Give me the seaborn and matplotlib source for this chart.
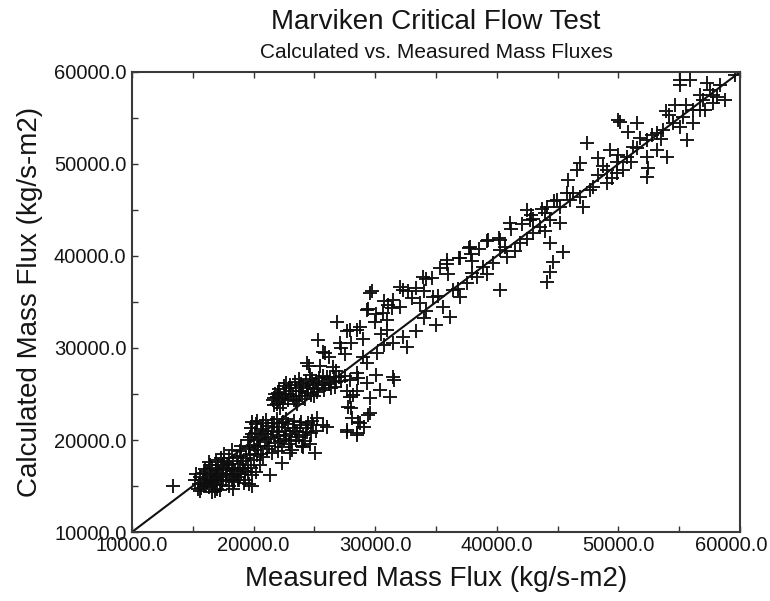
import numpy as np
import pandas as pd
import matplotlib
matplotlib.use("Agg")
import matplotlib.pyplot as plt
import matplotlib.transforms as mtransforms
import seaborn as sns
from matplotlib.ticker import MultipleLocator, FormatStrFormatter

# ---- data: (measured, calculated) mass flux pairs, kg/s-m2 ----
low_cluster = [
    (15500, 15200), (15600, 16000), (15700, 14800), (15800, 15600), (15900, 16400),
    (16000, 15100), (16100, 15800), (16200, 16600), (16300, 14900), (16400, 15500),
    (16500, 16200), (16600, 17000), (16700, 15300), (16800, 16000), (16900, 16700),
    (17000, 14700), (17000, 15800), (17100, 17300), (17200, 16400), (17300, 15100),
    (17400, 17000), (17500, 16000), (17600, 17600), (17700, 15600), (17800, 16700),
    (17900, 17300), (18000, 15000), (18000, 18000), (18100, 16300), (18200, 17000),
    (18300, 17700), (18400, 15400), (18500, 16600), (18600, 18100), (18700, 17400),
    (18800, 15700), (18900, 16900), (19000, 18300), (19100, 17700), (19200, 15300),
    (19300, 16600), (19400, 18000), (19500, 17300), (19600, 15200), (19700, 18500),
    (19800, 17000), (20000, 17800), (20200, 16500), (20300, 18400), (15200, 15700),
    (16400, 17300), (17200, 14600), (18000, 17400), (18600, 16300), (19300, 15600),
    (20500, 17300), (15400, 14700), (16800, 14500), (16900, 17800), (17600, 18500),
    (18200, 18900), (19000, 19300), (13400, 15000),
    (15300, 16300), (15900, 15000), (16200, 15300), (16600, 15700), (16900, 15100),
    (17100, 16100), (17400, 15500), (17700, 16300), (17700, 17000), (18200, 15800),
    (18400, 16200), (18700, 16000), (19000, 16300), (19100, 17000), (19500, 16500),
    (19900, 16200), (20100, 18900), (20400, 19400), (16000, 16900), (16300, 17600),
    (17300, 18000), (18900, 18800), (19600, 19200), (20800, 18200), (15600, 14500),
    (16600, 14300), (18300, 14700), (19900, 15000), (16900, 16300), (17500, 17300),
]
mid_cluster = [
    (19600, 19000), (19700, 20300), (19800, 21300), (20000, 19500), (20100, 20800),
    (20200, 21700), (20400, 19200), (20500, 20200), (20600, 21200), (20800, 21900),
    (20900, 19800), (21000, 20700), (21200, 21500), (21300, 19300), (21400, 20300),
    (21600, 21000), (21700, 21900), (21800, 19700), (22000, 20500), (22100, 21400),
    (22300, 19200), (22400, 22000), (22500, 20100), (22600, 21000), (22800, 21700),
    (22900, 19600), (23000, 20600), (23200, 21300), (23300, 22100), (23500, 20000),
    (23600, 20900), (23800, 21600), (24000, 19400), (24100, 20500), (24300, 21300),
    (24500, 21900), (24700, 20800), (24900, 21600), (19900, 22000), (21000, 22200),
    (22000, 18800), (23000, 18600), (21500, 18600), (21350, 16200), (22300, 17500),
    (23150, 18900), (24060, 19250), (25050, 18600), (18700, 15650),
    (19900, 20700), (20300, 20000), (20700, 20600), (20300, 22100), (21100, 19000),
    (21500, 21800), (21900, 20900), (22200, 19900), (22700, 20400), (22300, 21800),
    (23100, 19900), (23400, 21000), (23700, 20300), (23900, 22000), (24200, 19900),
    (24400, 20900), (24800, 22100), (25100, 21000), (20600, 18500), (21900, 22300),
    (22700, 22300), (19500, 20000), (20800, 21000), (21200, 20100), (24600, 19600),
]
upper_cluster = [
    (21600, 24300), (21700, 23800), (21800, 25000), (22000, 24100), (22100, 25500),
    (22300, 24600), (22400, 23900), (22500, 25900), (22700, 25000), (22800, 24300),
    (23000, 26000), (23100, 25300), (23300, 24400), (23400, 26300), (23500, 25600),
    (23700, 24800), (23900, 26100), (24000, 25300), (24200, 24500), (24300, 26400),
    (24500, 25700), (24700, 24900), (24800, 26600), (25000, 26000), (25200, 25200),
    (25400, 26700), (25600, 26200), (25800, 25400), (26000, 26800), (26200, 26100),
    (26400, 25600), (26600, 26900), (26800, 26300), (27000, 26900), (22200, 23500),
    (23600, 23900), (25000, 24800), (21900, 24700), (24600, 27100), (25700, 27000),
    (21700, 24600), (22000, 25100), (22200, 24900), (22600, 24600), (22900, 25600),
    (23200, 24800), (23500, 24200), (23800, 25300), (24100, 25900), (24400, 25100),
    (24600, 26200), (25100, 26400), (25300, 25700), (25900, 26000), (26300, 26600),
    (26700, 25800), (23700, 26600), (22700, 26200), (21900, 23900), (24900, 25500),
]
low_scatter = [
    (25200, 22400), (25700, 21650), (26000, 21400), (27650, 20900), (28470, 20550),
    (28100, 22400), (28600, 22000), (29400, 22700), (27980, 23450), (27760, 23600),
    (27900, 24650), (28500, 20750), (28750, 21850), (27700, 21100), (29100, 21450),
    (29300, 26200), (30400, 25450), (31200, 24650), (31460, 26850), (31550, 26550),
    (30100, 27100), (28470, 25300), (28140, 24900), (27650, 25300), (27170, 26400),
    (28600, 26700), (29600, 24550), (29570, 22950),
]
upper_band = [
    (24400, 28350), (24560, 28000), (25300, 30900), (25500, 28000), (25700, 29550),
    (25900, 29450), (26500, 27900), (26860, 32800), (27100, 30550), (27170, 30000),
    (27650, 31800), (27900, 31950), (28470, 32000), (28750, 32300), (29300, 34150),
    (29440, 34200), (29570, 35950), (29770, 36200), (30100, 33650), (30640, 33800),
    (30740, 35090), (31070, 34700), (31390, 34370), (31460, 35200), (32000, 36600),
    (32300, 36300), (32690, 36180), (33340, 36550), (33900, 37700), (34150, 37460),
    (34640, 37640), (35300, 38700), (35900, 39550), (35940, 39090), (36920, 39820),
    (37000, 39800), (37730, 40910), (37800, 41000), (37890, 40180), (38500, 40800),
    (39200, 41600), (39300, 41750), (40200, 42000), (40260, 41750), (41100, 43600),
    (41150, 42900), (42100, 43450), (42480, 45000), (42700, 43900), (42800, 44500),
    (43750, 45100), (44100, 45300), (44700, 46000), (44950, 46100), (45800, 46850),
    (26200, 29000), (27500, 29300), (28000, 30500), (29000, 31000), (30000, 32800),
    (31000, 33000), (33000, 35400), (34000, 36200), (36000, 38000), (38000, 39500),
    (40700, 41000), (43000, 44000),
]
diagonal_band = [
    (26800, 27500), (27500, 27000), (27900, 26500), (28500, 27300), (29000, 29000),
    (29300, 28350), (30150, 29450), (30740, 30370), (31500, 30500), (32300, 31200),
    (32600, 30100), (33340, 31820), (33700, 34900), (33990, 33270), (34750, 35550),
    (34970, 32550), (35600, 34450), (36150, 33370), (36400, 36300), (37000, 35500),
    (37550, 37050), (38400, 37700), (38900, 38800), (39700, 39200), (40800, 39900),
    (41500, 40500), (41900, 41400), (42980, 42500), (43550, 43150), (44380, 43900),
    (45200, 43600), (32000, 34450), (30500, 31500), (31000, 32000), (34200, 34000),
    (35200, 35600), (36800, 36400), (38000, 38200), (39200, 38000), (40300, 40700),
    (42500, 41800), (44000, 42700),
]
mid_outliers = [
    (40260, 36300), (44380, 41400), (45450, 40450), (44600, 39350), (44380, 38250),
    (44100, 37200),
]
high_band = [
    (45200, 45300), (46000, 46100), (46270, 46850), (46840, 46400), (47100, 45300),
    (47650, 47200), (47900, 47500), (48300, 48800), (49060, 49350), (49060, 47900),
    (49880, 50200), (50380, 49350), (50700, 50750), (51530, 51700), (52350, 52600),
    (52350, 50750), (53170, 53350), (53170, 51500), (53700, 53700), (54500, 54450),
    (55060, 54000), (55300, 55100), (56100, 55900), (56100, 54450), (56700, 55900),
    (56950, 56950), (57800, 57500), (57800, 56600), (58100, 57300), (58770, 56950),
    (57120, 55900), (56700, 57500), (57500, 58000), (58350, 58600), (59600, 59700),
    (55900, 59100), (55060, 58600), (55060, 59100), (48700, 49800), (50000, 51000),
    (51000, 50200), (51800, 52800), (52800, 53100), (53500, 52700), (54200, 55300),
    (55600, 56400), (49500, 48500), (51200, 51800), (53900, 55800), (57300, 58800),
]
high_scatter = [
    (43960, 44700), (45850, 48250), (46600, 49350), (46840, 50100), (47400, 52300),
    (48300, 50650), (49300, 51500), (49900, 49000), (49970, 54800), (50130, 54550),
    (50800, 53500), (51530, 54450), (52350, 48600), (52430, 49550), (54000, 50750),
    (54650, 56400), (55650, 52600),
]

groups = [low_cluster, mid_cluster, upper_cluster, low_scatter, upper_band,
          diagonal_band, mid_outliers, high_band, high_scatter]
pairs = [p for g in groups for p in g]
df = pd.DataFrame(pairs, columns=["measured", "calculated"])

x_ticks = [10000, 20000, 30000, 40000, 50000, 60000]
y_ticks = [10000, 20000, 30000, 40000, 50000, 60000]
title = "Marviken Critical Flow Test"
subtitle = "Calculated vs. Measured Mass Fluxes"
xlabel = "Measured Mass Flux (kg/s-m2)"
ylabel = "Calculated Mass Flux (kg/s-m2)"

# ---- style ----
sns.set_theme(style="white")
plt.rcParams["font.family"] = ["Liberation Sans", "DejaVu Sans"]
text_color = "#151515"

fig = plt.figure(figsize=(7.70, 6.01), dpi=100)
ax = fig.add_axes([132 / 770, 1 - 532 / 601, 608 / 770, 460 / 601])

sns.scatterplot(data=df, x="measured", y="calculated", marker="+", s=100,
                color="#0d0d0d", linewidth=1.4, alpha=0.95, ax=ax, legend=False)
sns.lineplot(x=[x_ticks[0], x_ticks[-1]], y=[y_ticks[0], y_ticks[-1]],
             color="#111111", linewidth=1.5, ax=ax)

ax.set_xlim(x_ticks[0], x_ticks[-1])
ax.set_ylim(y_ticks[0], y_ticks[-1])
ax.set_xticks(x_ticks)
ax.set_yticks(y_ticks)
ax.xaxis.set_minor_locator(MultipleLocator(5000))
ax.yaxis.set_minor_locator(MultipleLocator(5000))
ax.xaxis.set_major_formatter(FormatStrFormatter("%.1f"))
ax.yaxis.set_major_formatter(FormatStrFormatter("%.1f"))

ax.tick_params(which="both", direction="in", top=True, right=False,
               bottom=True, left=True, color="#333333", width=1.0)
ax.tick_params(which="major", length=4, labelsize=14.5, labelcolor=text_color)
ax.tick_params(which="minor", length=4)
ax.tick_params(axis="x", which="major", pad=3)
ax.tick_params(axis="y", which="major", pad=4)

for sp in ax.spines.values():
    sp.set_visible(True)
    sp.set_color("#3a3a3a")
    sp.set_linewidth(1.5)

ax.set_xlabel(xlabel, fontsize=20, color=text_color, labelpad=8)
ax.set_ylabel(ylabel, fontsize=20, color=text_color, labelpad=8)

# nudge the last x tick label left so it stays inside the figure, as in the reference
fig.canvas.draw()
last_label = ax.get_xticklabels()[-1]
last_label.set_transform(last_label.get_transform() +
                         mtransforms.ScaledTranslation(-6 / 72, 0, fig.dpi_scale_trans))

fig.text(436 / 770, 1 - 22 / 601, title, ha="center", va="center",
         fontsize=20, color=text_color)
fig.text(436 / 770, 1 - 52 / 601, subtitle, ha="center", va="center",
         fontsize=15, color=text_color)

fig.savefig("out.png", dpi=100)
